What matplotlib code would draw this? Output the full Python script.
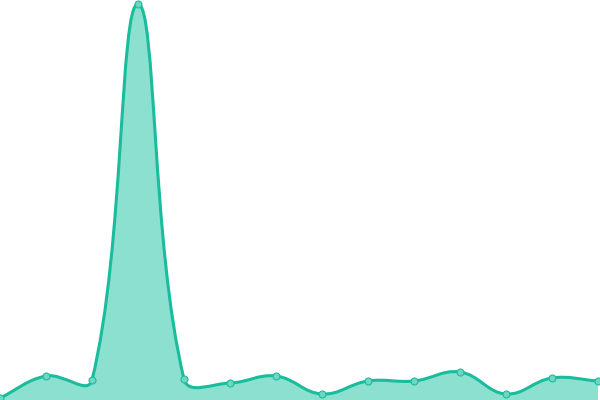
import numpy as np
import matplotlib
matplotlib.use("Agg")
import matplotlib.pyplot as plt
from matplotlib.path import Path
from matplotlib.patches import PathPatch

# values (index = position along x)
values = [2, 24, 20, 396, 21, 17, 24, 6, 19, 19, 28, 6, 22, 19]
x_step_px = 46.0    # pixel width of one index step, used for curve tension distances
tension = 0.4

LINE = "#1abc9c"
FILL = "#8be0cf"
POINT = "#6fd6c1"


def spline_controls(xs, ys, sx, t):
    # Chart.js style control points, distances measured in pixel-like units
    n = len(xs)
    ctrl = []
    for i in range(n):
        p = np.array([xs[i], ys[i]])
        prev = np.array([xs[max(i - 1, 0)], ys[max(i - 1, 0)]])
        nxt = np.array([xs[min(i + 1, n - 1)], ys[min(i + 1, n - 1)]])
        scale = np.array([sx, 1.0])
        d01 = np.linalg.norm((p - prev) * scale)
        d12 = np.linalg.norm((nxt - p) * scale)
        tot = d01 + d12
        fa = t * d01 / tot if tot else 0
        fb = t * d12 / tot if tot else 0
        diff = nxt - prev
        ctrl.append((p - fa * diff, p + fb * diff))
    return ctrl


def curve_path(xs, ys, ctrl, close=False):
    verts = [(xs[0], ys[0])]
    codes = [Path.MOVETO]
    for i in range(len(xs) - 1):
        verts += [tuple(ctrl[i][1]), tuple(ctrl[i + 1][0]), (xs[i + 1], ys[i + 1])]
        codes += [Path.CURVE4] * 3
    if close:
        verts += [(xs[-1], 0), (xs[0], 0), (xs[0], ys[0])]
        codes += [Path.LINETO, Path.LINETO, Path.CLOSEPOLY]
    return Path(verts, codes)


xs = np.arange(len(values), dtype=float)
ys = np.array(values, dtype=float)
ctrl = spline_controls(xs, ys, x_step_px, tension)

fig = plt.figure(figsize=(6, 4), dpi=100)
ax = fig.add_axes([0, 0, 1, 1])
ax.add_patch(PathPatch(curve_path(xs, ys, ctrl, close=True), facecolor=FILL, edgecolor="none"))
ax.add_patch(PathPatch(curve_path(xs, ys, ctrl), facecolor="none", edgecolor=LINE, lw=2.2,
                       capstyle="round", joinstyle="round"))
ax.plot(xs, ys, "o", ms=5, mfc=POINT, mec=LINE, mew=0.8, clip_on=True)
ax.set_xlim(0, 600 / x_step_px)
ax.set_ylim(0, 400)
ax.axis("off")
fig.savefig("out.png", dpi=100)
